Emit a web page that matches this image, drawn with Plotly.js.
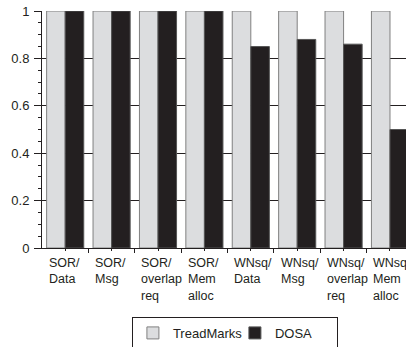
<!DOCTYPE html>
<html><head><meta charset="utf-8">
<script src="https://cdn.plot.ly/plotly-3.0.1.min.js"></script>
<style>html,body{margin:0;padding:0;background:#fff;}#chart{width:406px;height:347px;}</style>
</head><body><div id="chart"></div>
<script>
const categories = ["SOR/\nData","SOR/\nMsg","SOR/\noverlap\nreq","SOR/\nMem\nalloc","WNsq/\nData","WNsq/\nMsg","WNsq/\noverlap\nreq","WNsq/\nMem\nalloc"];
const treadmarks = [1,1,1,1,1,1,1,1];
const dosa = [1,1,1,1,0.85,0.88,0.86,0.5];
const yTicks = [0,0.2,0.4,0.6,0.8,1];
const yTickText = ["0","0.2","0.4","0.6","0.8","1"];

const xs = categories.map((c,i)=>i);
const font = {family:"Liberation Sans, Arial, sans-serif", size:13, color:"#231f20"};
const labFont = {family:"Liberation Sans, Arial, sans-serif", size:12.5, color:"#231f20"};

const traces = [
  {type:"bar", name:"TreadMarks", x:xs, y:treadmarks, marker:{color:"#dcdddf", line:{color:"#808080", width:1}}},
  {type:"bar", name:"DOSA", x:xs, y:dosa, marker:{color:"#231f20", line:{color:"#555", width:1}}}
];

const annotations = categories.map((c,i)=>({
  xref:"x", yref:"paper", x:i-0.4, y:0, xanchor:"left", yanchor:"top",
  yshift:-6, text:c.split("\n").join("<br>"), showarrow:false, font:labFont, align:"left"
}));

const layout = {
  width:406, height:347,
  margin:{l:42, r:0, t:11, b:99, autoexpand:false},
  paper_bgcolor:"#fff", plot_bgcolor:"#fff",
  barmode:"group", bargap:0.2, bargroupgap:0,
  font:font,
  showlegend:true,
  legend:{orientation:"h", x:0.247, xanchor:"left", y:-0.291, yanchor:"top",
    bordercolor:"#231f20", borderwidth:1, font:font, traceorder:"normal", bgcolor:"#fff",
    entrywidth:57},
  xaxis:{range:[-0.5,7.345], showgrid:false, zeroline:false, showline:true, linecolor:"#231f20", linewidth:1,
    tickmode:"array", tickvals:[0.5,1.5,2.5,3.5,4.5,5.5,6.5], ticktext:["","","","","","",""],
    ticks:"outside", ticklen:4, tickcolor:"#231f20",
    minor:{tickmode:"array", tickvals:xs, ticks:"outside", ticklen:2, tickcolor:"#231f20"}},
  yaxis:{range:[0,1], tickmode:"array", tickvals:yTicks, ticktext:yTickText,
    showgrid:true, gridcolor:"#231f20", gridwidth:1, zeroline:false,
    showline:true, linecolor:"#231f20", linewidth:1,
    ticks:"outside", ticklen:7, tickcolor:"#231f20", ticklabelstandoff:2,
    minor:{dtick:0.05, ticks:"outside", ticklen:3, tickcolor:"#231f20", showgrid:false}},
  annotations:annotations
};
Plotly.newPlot("chart", traces, layout, {staticPlot:true, displayModeBar:false});
</script></body></html>
